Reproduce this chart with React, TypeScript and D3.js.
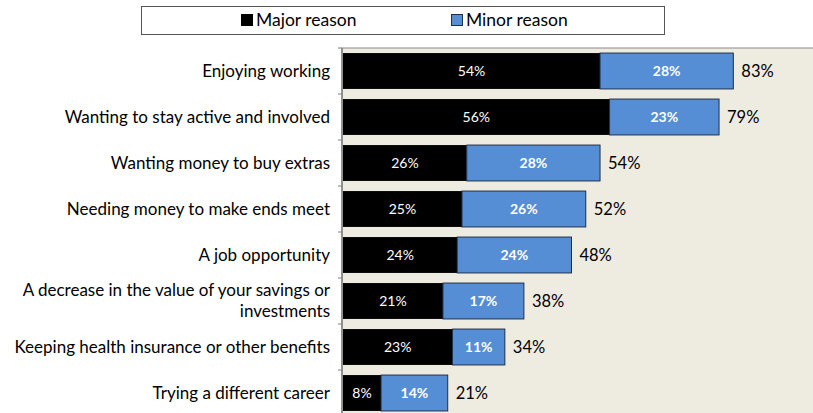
import React from "react";
import * as d3 from "d3";

const categories = [
  ["Enjoying working"],
  ["Wanting to stay active and involved"],
  ["Wanting money to buy extras"],
  ["Needing money to make ends meet"],
  ["A job opportunity"],
  ["A decrease in the value of your savings or", "investments"],
  ["Keeping health insurance or other benefits"],
  ["Trying a different career"],
];
const major = [54, 56, 26, 25, 24, 21, 23, 8];
const minor = [28, 23, 28, 26, 24, 17, 11, 14];
const totals = [83, 79, 54, 52, 48, 38, 34, 21];
const seriesNames = ["Major reason", "Minor reason"];

const W = 813;
const H = 413;
const plotLeft = 342;
const plotTop = 48;
const FONT = "Lato, 'Open Sans', sans-serif";

export default function App() {
  const x = d3.scaleLinear().domain([0, 100]).range([plotLeft + 1, plotLeft + 1 + 476]);
  const y = d3
    .scaleBand<number>()
    .domain(d3.range(categories.length))
    .range([plotTop, plotTop + 46 * categories.length])
    .paddingInner(0.22)
    .paddingOuter(0.11);
  const bh = y.bandwidth();
  return (
    <svg width={W} height={H} style={{ position: "absolute", left: 0, top: 0 }} fontFamily={FONT}>
      <rect x={0} y={0} width={W} height={H} fill="#ffffff" />
      <rect x={plotLeft} y={plotTop} width={W - plotLeft + 10} height={H} fill="#EEEBE1" stroke="#8c8c8c" strokeWidth={1} />
      <line x1={plotLeft} x2={plotLeft} y1={plotTop} y2={H} stroke="#808080" strokeWidth={1.5} />
      {d3.range(categories.length + 1).map((i) => {
        const yy = plotTop + 46 * i;
        return <line key={"t" + i} x1={plotLeft - 4} x2={plotLeft} y1={yy} y2={yy} stroke="#808080" />;
      })}
      {categories.map((lines, i) => {
        const cy = (y(i) as number) + bh / 2;
        const lh = 21;
        const y0 = cy - ((lines.length - 1) * lh) / 2;
        return (
          <text key={"c" + i} x={330} textAnchor="end" fontSize={17} fill="#000">
            {lines.map((l, j) => (
              <tspan key={j} x={330} y={y0 + j * lh} dy="0.35em">
                {l}
              </tspan>
            ))}
          </text>
        );
      })}
      {major.map((v, i) => {
        const y0 = y(i) as number;
        const x0 = x(0);
        const x1 = x(v);
        const x2 = x(v + minor[i]);
        return (
          <g key={"b" + i}>
            <rect x={x0} y={y0} width={x1 - x0} height={bh} fill="#000" />
            <rect x={x1} y={y0} width={x2 - x1} height={bh} fill="#558ED5" stroke="#1f2f4a" strokeWidth={1} />
            <text x={(x0 + x1) / 2} y={y0 + bh / 2} dy="0.35em" textAnchor="middle" fill="#fff" fontSize={14}>
              {v}%
            </text>
            <text x={(x1 + x2) / 2} y={y0 + bh / 2} dy="0.35em" textAnchor="middle" fill="#fff" fontSize={14} fontWeight="bold">
              {minor[i]}%
            </text>
            <text x={x2 + 8} y={y0 + bh / 2} dy="0.35em" fill="#000" fontSize={16.5}>
              {totals[i]}%
            </text>
          </g>
        );
      })}
      <rect x={141.5} y={6.5} width={523} height={28} fill="#fff" stroke="#555" strokeWidth={1} />
      <rect x={241} y={14} width={12} height={12} fill="#000" />
      <text x={256} y={20} dy="0.35em" fontSize={17.5}>{seriesNames[0]}</text>
      <rect x={451.5} y={14.5} width={11} height={11} fill="#558ED5" stroke="#1f2f4a" />
      <text x={466} y={20} dy="0.35em" fontSize={17.5}>{seriesNames[1]}</text>
    </svg>
  );
}
